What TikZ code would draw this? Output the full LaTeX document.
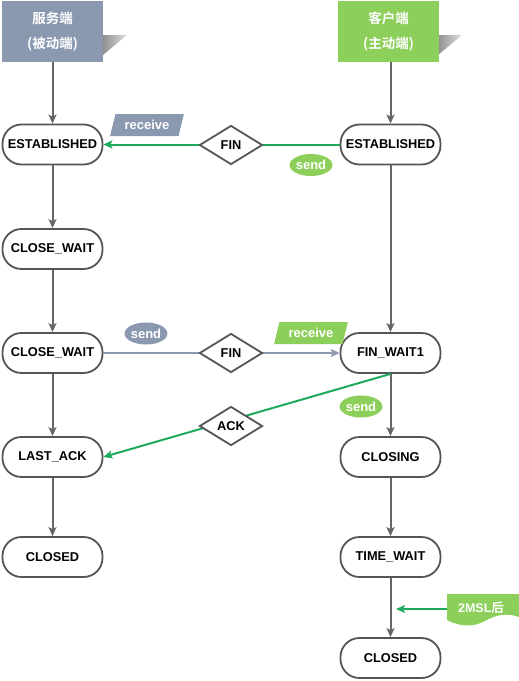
\documentclass[tikz,border=0pt]{standalone}
\usepackage{fontspec}
\setmainfont{Liberation Sans}
\newfontfamily\cjk{Noto Sans CJK SC}[BoldFont={* Bold}]
\usetikzlibrary{arrows.meta,shapes.geometric}
\definecolor{slate}{HTML}{8A98B0}
\definecolor{leaf}{HTML}{8CCF5A}
\definecolor{wire}{HTML}{1DAA5C}
\definecolor{pipe}{HTML}{666666}
\definecolor{rim}{HTML}{555555}
\tikzset{
  state/.style={draw=rim,line width=1.8pt,fill=white,rounded corners=19pt,minimum width=100pt,minimum height=40pt,inner sep=0pt,font=\fontsize{12.8}{14}\selectfont\bfseries},
  head/.style={minimum width=101pt,minimum height=61pt,inner sep=0pt,text=white,align=center,font=\cjk\fontsize{13.5}{25}\selectfont\bfseries},
  pkt/.style={diamond,draw=rim,line width=1.8pt,fill=white,minimum width=63pt,minimum height=39pt,inner sep=0pt,font=\fontsize{12.8}{14}\selectfont\bfseries},
  tip/.style={-{Stealth[length=9pt,width=8pt,inset=2pt]}},
  flow/.style={tip,draw=pipe,line width=2pt},
  gline/.style={tip,draw=wire,line width=2pt},
  sline/.style={tip,draw=slate,line width=2pt},
  bubble/.style={ellipse,minimum width=41pt,minimum height=22pt,inner sep=0pt,text=white,font=\fontsize{13}{14}\selectfont\bfseries},
  tag/.style={trapezium,trapezium left angle=68,trapezium right angle=112,trapezium stretches=true,minimum width=74pt,minimum height=22pt,inner sep=0pt,text=white,font=\fontsize{13}{14}\selectfont\bfseries},
}
\begin{document}
\begin{tikzpicture}[x=1pt,y=-1pt]
\useasboundingbox (0,0) rectangle (519,681);
% shadows
\shade[left color=gray!95,right color=gray!25] (100,35) -- (127,35) -- (103,55) -- (100,55) -- cycle;
\shade[left color=gray!95,right color=gray!25] (435,35) -- (462,35) -- (438,55) -- (435,55) -- cycle;
% headers
\node[head,fill=slate] (hs) at (52.5,31.5) {服务端\\(被动端)};
\node[head,fill=leaf] (hc) at (388.5,31.5) {客户端\\(主动端)};
% server column
\node[state] (s1) at (52.5,144.5) {ESTABLISHED};
\node[state] (s2) at (52.5,249) {CLOSE\_WAIT};
\node[state] (s3) at (52.5,353) {CLOSE\_WAIT};
\node[state] (s4) at (52.5,457) {LAST\_ACK};
\node[state] (s5) at (52.5,557) {CLOSED};
% client column
\node[state] (c1) at (390.5,144.5) {ESTABLISHED};
\node[state] (c2) at (390.5,353) {FIN\_WAIT1};
\node[state] (c3) at (390.5,457) {CLOSING};
\node[state] (c4) at (390.5,557) {TIME\_WAIT};
\node[state] (c5) at (390.5,658) {CLOSED};
% vertical flows
\draw[flow] (hs) -- (s1);
\draw[flow] (s1) -- (s2);
\draw[flow] (s2) -- (s3);
\draw[flow] (s3) -- (s4);
\draw[flow] (s4) -- (s5);
\draw[flow] (c1 |- hc.south) -- (c1);
\draw[flow] (c1) -- (c2);
\draw[flow] (c2) -- (c3);
\draw[flow] (c3) -- (c4);
\draw[flow] (c4) -- (c5);
% horizontal messages
\draw[gline] (c1.west) -- (s1.east);
\draw[sline] (s3.east) -- (c2.west);
\draw[gline] (c2.south) -- (s4.east);
\node[pkt] (f1) at (231,145) {FIN};
\node[pkt] (f2) at (231,353) {FIN};
\node[pkt] (ak) at (231,426) {ACK};
% labels
\node[tag,fill=slate] (r1) at (147,125) {receive};
\node[tag,fill=leaf] (r2) at (311,333) {receive};
\node[bubble,fill=leaf] (e1) at (311,165) {send};
\node[bubble,fill=slate] (e2) at (146,333.5) {send};
\node[bubble,fill=leaf] (e3) at (361,406.5) {send};
% 2MSL flag
\fill[leaf] (447,594) -- (519,594) -- (519,617) .. controls (508,613) and (497,614) .. (485,621) .. controls (472,628) and (458,626) .. (447,620) -- cycle;
\node[text=white,font=\fontsize{12.5}{14}\selectfont\bfseries,inner sep=0pt] (ms) at (481,608) {2MSL\cjk 后};
\coordinate (msw) at (447,609);
\coordinate (mst) at (396,609);
\draw[gline] (msw) -- (mst);
\end{tikzpicture}
\end{document}
